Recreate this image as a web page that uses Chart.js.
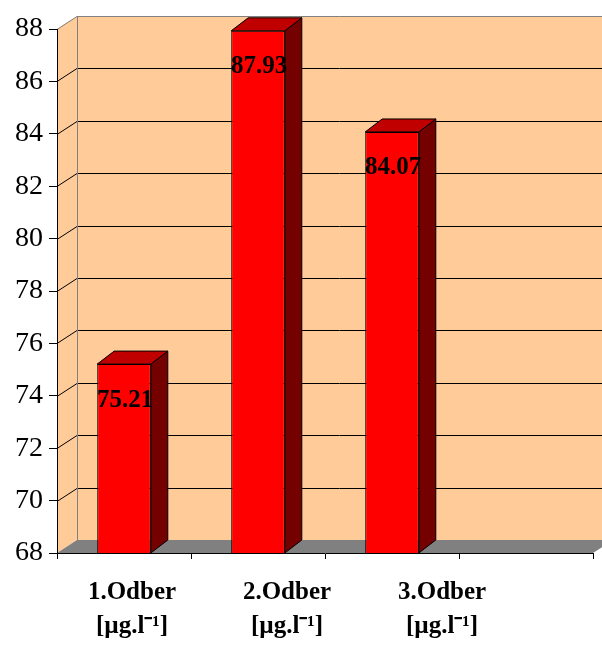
<!DOCTYPE html>
<html>
<head>
<meta charset="utf-8">
<script src="https://cdn.jsdelivr.net/npm/chart.js@4.4.0/dist/chart.umd.min.js"></script>
<style>
  html, body { margin: 0; padding: 0; background: #fff; }
  #wrap { width: 602px; height: 645px; }
</style>
</head>
<body>
<div id="wrap"><canvas id="chart" width="602" height="645"></canvas></div>
<script>
// Sampling rounds and measured concentrations
const categories = ['1.Odber', '2.Odber', '3.Odber'];
const unitLabel = '[µg.l⁻¹]';
const values = [75.21, 87.93, 84.07];
const yTicks = [68, 70, 72, 74, 76, 78, 80, 82, 84, 86, 88];

// 3D look: depth offsets and colours
const WALL_DX = 20, WALL_DY = -13;
const BAR_DX = 17, BAR_DY = -13;
const WALL_COLOR = '#FFCC99';
const FLOOR_COLOR = '#808080';
const EDGE_COLOR = '#808080';
const FRONT_COLOR = '#FF0000';
const TOP_COLOR = '#C00000';
const SIDE_COLOR = '#740000';
const SERIF = '"Liberation Serif", "Times New Roman", serif';

function polygon(ctx, pts, fill, stroke) {
  ctx.beginPath();
  pts.forEach(([px, py], i) => (i ? ctx.lineTo(px, py) : ctx.moveTo(px, py)));
  ctx.closePath();
  if (fill) { ctx.fillStyle = fill; ctx.fill(); }
  if (stroke) { ctx.strokeStyle = stroke; ctx.stroke(); }
}

// Back wall, side wall, floor and the wall gridlines
const walls = {
  id: 'walls',
  beforeDraw(chart) {
    const { ctx, chartArea: a, scales: { y } } = chart;
    const W = chart.width;
    const L = a.left, B = a.bottom;
    ctx.save();
    ctx.lineWidth = 1;
    ctx.fillStyle = WALL_COLOR;
    ctx.fillRect(L + WALL_DX, a.top + WALL_DY, W - L - WALL_DX, B - a.top);
    polygon(ctx, [[L, a.top], [L + WALL_DX, a.top + WALL_DY], [L + WALL_DX, B + WALL_DY], [L, B]], WALL_COLOR);
    polygon(ctx, [[L, B], [L + WALL_DX, B + WALL_DY], [a.right + WALL_DX, B + WALL_DY], [a.right, B]], FLOOR_COLOR);

    y.ticks.forEach(t => {
      if (t.value === y.min) return;
      const py = Math.round(y.getPixelForValue(t.value)) + 0.5;
      ctx.strokeStyle = t.value === y.max ? EDGE_COLOR : '#000';
      ctx.beginPath();
      ctx.moveTo(L, py);
      ctx.lineTo(L + WALL_DX, py + WALL_DY);
      ctx.lineTo(W, py + WALL_DY);
      ctx.stroke();
    });
    ctx.strokeStyle = EDGE_COLOR;
    ctx.beginPath();
    ctx.moveTo(L + WALL_DX + 0.5, a.top + WALL_DY);
    ctx.lineTo(L + WALL_DX + 0.5, B + WALL_DY);
    ctx.stroke();
    ctx.restore();
  }
};

// Side and top faces of each bar, then the value labels
const barFaces = {
  id: 'barFaces',
  afterDatasetsDraw(chart) {
    const { ctx, chartArea: a } = chart;
    const meta = chart.getDatasetMeta(0);
    ctx.save();
    ctx.lineWidth = 1;
    meta.data.forEach(bar => {
      const { x, y, base, width } = bar.getProps(['x', 'y', 'base', 'width'], true);
      const bottom = Math.min(base, a.bottom);
      const l = x - width / 2, r = x + width / 2;
      polygon(ctx, [[r, y], [r + BAR_DX, y + BAR_DY], [r + BAR_DX, bottom + BAR_DY], [r, bottom]], SIDE_COLOR, '#000');
      polygon(ctx, [[l, y], [l + BAR_DX, y + BAR_DY], [r + BAR_DX, y + BAR_DY], [r, y]], TOP_COLOR, '#000');
    });
    ctx.font = 'bold 25px ' + SERIF;
    ctx.textAlign = 'center';
    ctx.textBaseline = 'middle';
    ctx.fillStyle = '#000';
    meta.data.forEach((bar, i) => {
      ctx.fillText(values[i].toFixed(2), bar.x + 1, bar.y + 36);
    });
    ctx.restore();
  }
};

new Chart(document.getElementById('chart'), {
  type: 'bar',
  data: {
    labels: [...categories, ''],
    datasets: [{
      data: values,
      xAxisID: 'x',
      yAxisID: 'y',
      backgroundColor: FRONT_COLOR,
      borderColor: '#000',
      borderWidth: 1,
      borderSkipped: false,
      barPercentage: 0.4,
      categoryPercentage: 1
    }]
  },
  options: {
    responsive: false,
    animation: false,
    events: [],
    layout: { padding: { top: 29, right: 9, left: 0, bottom: 0 } },
    plugins: { legend: { display: false }, tooltip: { enabled: false } },
    scales: {
      x: {
        type: 'category',
        position: 'bottom',
        weight: 0,
        offset: true,
        grid: { display: true, drawOnChartArea: false, offset: true, color: '#000', tickLength: 6 },
        border: { display: true, color: '#000' },
        ticks: { display: false },
        afterFit: s => { s.height = 6; }
      },
      // label row under the floor
      xl: {
        type: 'linear',
        position: 'bottom',
        weight: 1,
        offset: false,
        min: 0.516,
        max: 3.974,
        grid: { display: false, offset: false, drawTicks: false, tickLength: 0 },
        border: { display: false },
        ticks: {
          stepSize: 1,
          includeBounds: false,
          autoSkip: false,
          maxRotation: 0,
          padding: 17,
          color: '#000',
          font: { family: SERIF, size: 25, weight: 'bold', lineHeight: 1.35 },
          callback: v => (categories[v - 1] ? [categories[v - 1], unitLabel] : '')
        },
        afterFit: s => { s.height = 86; }
      },
      y: {
        min: yTicks[0],
        max: yTicks[yTicks.length - 1],
        grid: { drawOnChartArea: false, color: '#000', tickLength: 8 },
        border: { display: true, color: '#000' },
        ticks: {
          stepSize: yTicks[1] - yTicks[0],
          padding: 6,
          color: '#000',
          font: { family: SERIF, size: 28 }
        },
        afterFit: s => { s.width = 57; }
      }
    }
  },
  plugins: [walls, barFaces]
});
</script>
</body>
</html>
